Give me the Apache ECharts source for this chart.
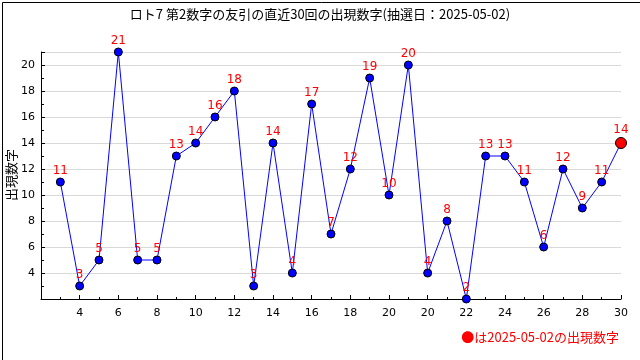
<!DOCTYPE html>
<html><head><meta charset="utf-8">
<script src="https://cdn.jsdelivr.net/npm/echarts@6/dist/echarts.min.js"></script>
<style>html,body{margin:0;padding:0;background:#fff}#c{width:640px;height:360px}</style>
</head><body><div id="c"></div>
<script>
const titleText = 'ロト7 第2数字の友引の直近30回の出現数字(抽選日：2025-05-02)';
const yAxisName = '出現数字';
const legendText = '●は2025-05-02の出現数字';
const drawIndex = [1,2,3,4,5,6,7,8,9,10,11,12,13,14,15,16,17,18,19,20,21,22,23,24,25,26,27,28,29,30];
const values = [11,3,5,21,5,5,13,14,16,18,3,14,4,17,7,12,19,10,20,4,8,2,13,13,11,6,12,9,11,14];
const xTickLabels = ['', '4','6','8','10','12','14','16','18','20','20','22','24','26','28','30'];
const yTickShown = [4,6,8,10,12,14,16,18,20];

const font = '"Noto Sans CJK JP", "DejaVu Sans", sans-serif';
const data = drawIndex.map((x, i) => {
  const item = { value: [x, values[i]] };
  if (i === values.length - 1) {
    item.symbolSize = 11;
    item.itemStyle = { color: '#ff0000', borderColor: '#000', borderWidth: 1 };
    item.label = { distance: 1 };
  }
  return item;
});

const chart = echarts.init(document.getElementById('c'), null, { renderer: 'canvas' });
chart.setOption({
  animation: false,
  backgroundColor: '#fff',
  title: {
    text: titleText, left: 'center', top: 3,
    textStyle: { fontFamily: font, fontSize: 13, fontWeight: 'normal', color: '#000' }
  },
  grid: { left: 41, right: 19, top: 52, bottom: 61, containLabel: false, outerBoundsMode: 'none' },
  xAxis: {
    type: 'value', min: 0, max: 30, interval: 2,
    axisLine: { lineStyle: { color: '#000', width: 1 } },
    axisTick: { show: true, inside: true, length: 4, lineStyle: { color: '#000' } },
    minorTick: { show: true, splitNumber: 2, length: 2, lineStyle: { color: '#000' } },
    splitLine: { show: false },
    axisLabel: {
      color: '#000', fontFamily: '"DejaVu Sans", sans-serif', fontSize: 11, margin: 9,
      formatter: v => xTickLabels[Math.round(v / 2)] || ''
    }
  },
  yAxis: {
    type: 'value', min: 2, max: 21, interval: 2,
    axisLine: { show: true, lineStyle: { color: '#000', width: 1 } },
    axisTick: { show: true, inside: true, length: 4, lineStyle: { color: '#000' } },
    minorTick: { show: true, splitNumber: 2, length: 3, lineStyle: { color: '#000' } },
    splitLine: { show: true, lineStyle: { color: '#d9d9d9', width: 1 } },
    axisLabel: {
      color: '#000', fontFamily: '"DejaVu Sans", sans-serif', fontSize: 11, margin: 6,
      showMaxLabel: false,
      formatter: v => yTickShown.includes(v) ? String(v) : ''
    }
  },
  series: [{
    type: 'line',
    data: data,
    symbol: 'circle', symbolSize: 8,
    lineStyle: { color: '#0000ff', width: 1 },
    itemStyle: { color: '#0000ff', borderColor: '#000', borderWidth: 1 },
    label: {
      show: true, position: 'top', distance: 1, color: '#ff0000',
      fontFamily: '"DejaVu Sans", sans-serif', fontSize: 12,
      formatter: p => String(p.value[1])
    },
    z: 3
  }],
  graphic: [
    { type: 'rect', left: 0, top: 0, shape: { x: 0.5, y: 0.5, width: 639, height: 359 },
      style: { fill: 'none', stroke: '#000', lineWidth: 1 }, silent: true },
    { type: 'text', x: 11, y: 175, rotation: Math.PI / 2,
      style: { text: yAxisName, fill: '#000', font: '13px ' + font, align: 'center', verticalAlign: 'middle' } },
    { type: 'text', right: 21, top: 331,
      style: { text: legendText, fill: '#ff0000', font: '13px ' + font } }
  ]
});
</script></body></html>
